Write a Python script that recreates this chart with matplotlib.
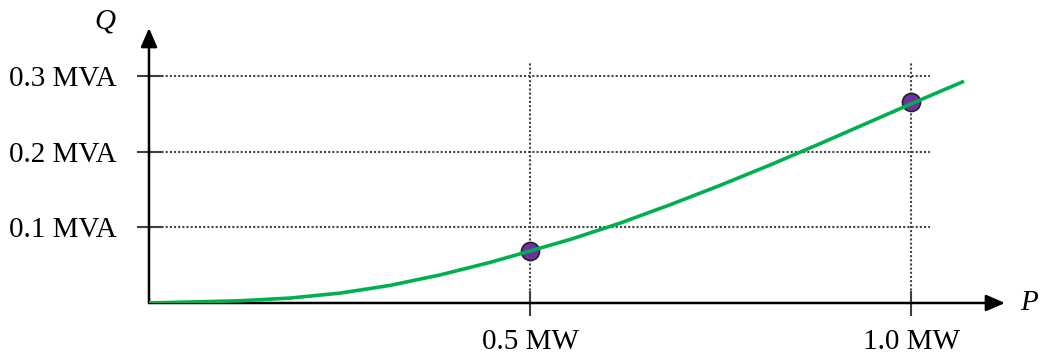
import numpy as np
import matplotlib.pyplot as plt

# curve (P in MW, Q in MVA)
curve_p = [0.0, 0.119, 0.185, 0.251, 0.316, 0.382, 0.447, 0.5, 0.553, 0.618,
           0.684, 0.749, 0.815, 0.881, 0.916, 1.003, 1.067]
curve_q = [0.0, 0.0029, 0.0065, 0.0131, 0.0232, 0.0371, 0.0535, 0.0687, 0.0841, 0.1055,
           0.1299, 0.1553, 0.1824, 0.2108, 0.2262, 0.2645, 0.2920]

# marked points
point_p = [0.5, 1.0]
point_q = [0.0687, 0.266]

x_ticks = [0.5, 1.0]
x_labels = ['0.5 MW', '1.0 MW']
y_ticks = [0.1, 0.2, 0.3]
y_labels = ['0.1 MVA', '0.2 MVA', '0.3 MVA']

plt.rcParams['font.family'] = ['Liberation Serif', 'DejaVu Serif']

fig = plt.figure(figsize=(10.47, 3.54), dpi=100)
ax = fig.add_axes([0.1423, 0.1441, 0.8176, 0.7768])
ax.set_xlim(0, 1.123)
ax.set_ylim(0, 0.3633)

for s in ax.spines.values():
    s.set_visible(False)

axis_col = '#404040'
arrow = dict(arrowstyle='-|>,head_length=1.15,head_width=0.5',
             color=axis_col, fc='black', ec='black', lw=1.8, shrinkA=0, shrinkB=0)
ax.annotate('', xy=(1, 0), xytext=(0, 0), xycoords='axes fraction', arrowprops=arrow)
ax.annotate('', xy=(0, 1), xytext=(0, 0), xycoords='axes fraction', arrowprops=arrow)

# dotted grid
ax.hlines(y_ticks, 0, 1.025, colors='#444444', linestyles=(0, (1, 1)), lw=1.5, zorder=1)
ax.vlines(x_ticks, 0, 0.318, colors='#444444', linestyles=(0, (1, 1)), lw=1.5, zorder=1)

ax.set_xticks(x_ticks)
ax.set_xticklabels(x_labels)
ax.set_yticks(y_ticks)
ax.set_yticklabels(y_labels)
ax.tick_params(direction='inout', length=18, width=1.5, color=axis_col,
               labelsize=21, pad=10)
ax.tick_params(axis='y', pad=14)

ax.plot(point_p, point_q, 'o', ms=13, mfc='#7030A0', mec='#222222', mew=1.2, zorder=3)
ax.plot(curve_p, curve_q, color='#00B050', lw=2.6, zorder=4)

ax.text(-0.058, 0.372, 'Q', fontsize=21, style='italic', ha='center', va='center',
        clip_on=False)
ax.text(1.155, 0.0, 'P', fontsize=21, style='italic', ha='center', va='center',
        clip_on=False)

fig.savefig('out.png', dpi=100)
